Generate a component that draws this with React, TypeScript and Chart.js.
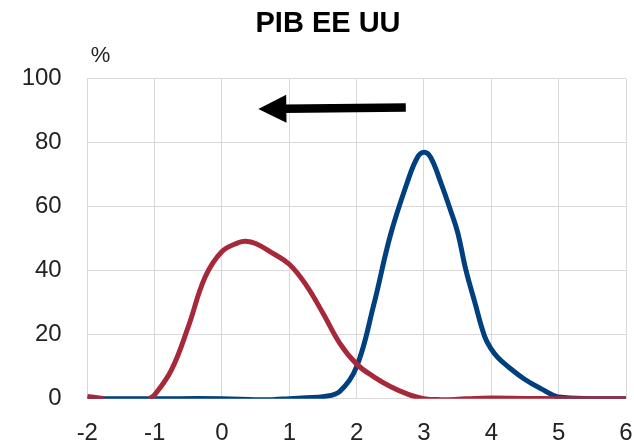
import React, { useEffect, useRef } from "react";
import { Chart, registerables } from "chart.js";

Chart.register(...registerables);

const chartTitle = "PIB EE UU";
const unitLabel = "%";

const xTicksMin = -2;
const xTicksMax = 6;
const yTicksMin = 0;
const yTicksMax = 100;

// Red series (earlier distribution)
const redX = [-2, -1.75, -1.5, -1.25, -1.08, -1, -0.75, -0.5, -0.25, 0, 0.25, 0.35, 0.5, 0.75, 1, 1.25, 1.5, 1.75, 2, 2.25, 2.5, 2.75, 3, 3.25, 3.5, 3.75, 4, 4.5, 5, 5.5, 6];
const redY = [0.7, 0, null, null, 0, 1.2, 9, 22.5, 38, 46, 48.8, 49.2, 48.5, 45.5, 42, 35.5, 26.7, 17.3, 10.8, 6.9, 3.8, 1.5, 0, -0.3, -0.2, 0.1, 0.2, 0.1, 0, 0, 0];

// Blue series (later distribution)
const blueX = [-2, -1, 0, 0.5, 0.75, 1, 1.25, 1.5, 1.75, 2, 2.25, 2.5, 2.75, 2.9, 3, 3.1, 3.25, 3.4, 3.5, 3.625, 3.75, 3.9, 4, 4.1, 4.25, 4.5, 4.75, 5, 5.5, 6];
const blueY = [0, 0, 0, -0.3, -0.3, 0, 0.3, 0.6, 2.3, 10, 29, 51, 67.5, 75.3, 77, 75.4, 67.5, 58.5, 52, 40, 30.5, 19.5, 15.5, 12.8, 10, 6, 3, 0.5, 0, 0];

// Arrow annotation (data coordinates): from tail to tip
const arrowFrom = [2.73, 91];
const arrowTo = [0.54, 90.5];

const RED = "#A6293A";
const BLUE = "#00407F";
const GRID = "#D9D9D9";
const TEXT = "#222222";
const FONT = "'Liberation Sans', Arial, Helvetica, sans-serif";

const toPoints = (xs: number[], ys: (number | null)[]) =>
  xs.map((x, i) => ({ x, y: ys[i] }));

const overlayPlugin = {
  id: "overlay",
  afterDatasetsDraw(chart: any) {
    const { ctx, scales } = chart;
    const xs = scales.x;
    const ys = scales.y;
    const x1 = xs.getPixelForValue(arrowFrom[0]);
    const y1 = ys.getPixelForValue(arrowFrom[1]);
    const x2 = xs.getPixelForValue(arrowTo[0]);
    const y2 = ys.getPixelForValue(arrowTo[1]);
    const ang = Math.atan2(y2 - y1, x2 - x1);
    const headLen = 28;
    const headHalf = 14;
    const shaft = 8.5;
    const bx = x2 - headLen * Math.cos(ang);
    const by = y2 - headLen * Math.sin(ang);
    ctx.save();
    ctx.strokeStyle = "#000";
    ctx.lineWidth = shaft;
    ctx.lineCap = "butt";
    ctx.beginPath();
    ctx.moveTo(x1, y1);
    ctx.lineTo(bx + 2 * Math.cos(ang), by + 2 * Math.sin(ang));
    ctx.stroke();
    ctx.fillStyle = "#000";
    ctx.beginPath();
    ctx.moveTo(x2, y2);
    ctx.lineTo(bx + headHalf * Math.sin(ang), by - headHalf * Math.cos(ang));
    ctx.lineTo(bx - headHalf * Math.sin(ang), by + headHalf * Math.cos(ang));
    ctx.closePath();
    ctx.fill();
    ctx.restore();
  },
  afterDraw(chart: any) {
    const { ctx, chartArea } = chart;
    ctx.save();
    // Title
    ctx.fillStyle = "#000";
    ctx.font = `bold 29px ${FONT}`;
    ctx.textAlign = "center";
    ctx.textBaseline = "middle";
    ctx.fillText(chartTitle, 328, 23.5);
    // Unit label
    ctx.fillStyle = TEXT;
    ctx.font = `22px ${FONT}`;
    ctx.textAlign = "left";
    ctx.textBaseline = "alphabetic";
    ctx.fillText(unitLabel, chartArea.left + 3.5, chartArea.top - 16.3);
    ctx.restore();
  },
};

export default function App() {
  const canvasRef = useRef<HTMLCanvasElement | null>(null);

  useEffect(() => {
    if (!canvasRef.current) return;
    const chart = new Chart(canvasRef.current, {
      type: "line",
      data: {
        datasets: [
          {
            label: "Rojo",
            data: toPoints(redX, redY) as any,
            borderColor: RED,
            backgroundColor: RED,
            borderWidth: 5,
            pointRadius: 0,
            tension: 0.4,
            spanGaps: false,
            fill: false,
          },
          {
            label: "Azul",
            data: toPoints(blueX, blueY) as any,
            borderColor: BLUE,
            backgroundColor: BLUE,
            borderWidth: 5,
            pointRadius: 0,
            tension: 0.4,
            fill: false,
          },
        ],
      },
      options: {
        responsive: false,
        animation: false,
        layout: { padding: { left: 0, right: 8, top: 78.7, bottom: 0 } },
        plugins: {
          legend: { display: false },
          tooltip: { enabled: false },
          title: { display: false },
        },
        scales: {
          x: {
            type: "linear",
            min: xTicksMin,
            max: xTicksMax,
            ticks: {
              stepSize: 1,
              color: TEXT,
              font: { family: FONT, size: 24 },
              padding: 20,
              maxRotation: 0,
            },
            grid: { color: GRID, lineWidth: 1, drawTicks: false },
            border: { display: false },
            afterFit: (s: any) => {
              s.height = 48.3;
              s.paddingLeft = 0;
              s.paddingRight = 0;
            },
          },
          y: {
            min: yTicksMin,
            max: yTicksMax,
            ticks: {
              stepSize: 20,
              color: TEXT,
              font: { family: FONT, size: 24 },
              padding: 25.6,
            },
            grid: { color: GRID, lineWidth: 1, drawTicks: false },
            border: { display: false },
            afterFit: (s: any) => {
              s.width = 87.3;
            },
          },
        },
      },
      plugins: [overlayPlugin],
    });
    return () => chart.destroy();
  }, []);

  return (
    <div style={{ position: "absolute", left: 0, top: 0, width: 634, height: 447, background: "#fff" }}>
      <canvas ref={canvasRef} width={634} height={447} style={{ display: "block" }} />
    </div>
  );
}
